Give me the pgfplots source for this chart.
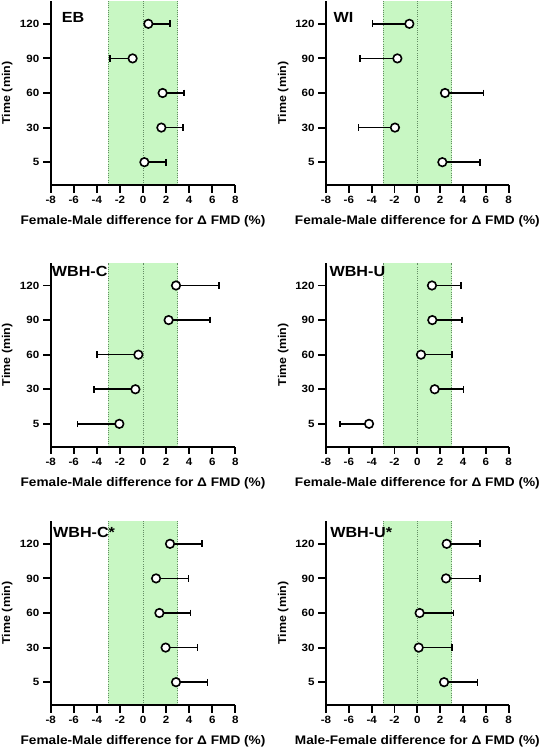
\documentclass[border=0pt]{standalone}
\usepackage{fontspec}
\setmainfont{Liberation Sans}[FakeStretch=1.1]
\usepackage{pgfplots}
\usepackage{pgfplotstable}
\pgfplotsset{compat=1.18}
\definecolor{eqgreen}{RGB}{200,247,195}
\definecolor{dotgreen}{RGB}{100,140,100}

% columns: p = category position (1=5,2=30,3=60,4=90,5=120), v = difference, ep/em = one-sided error
\pgfplotstableread{
p v ep em
1 0.12 1.87 0
2 1.59 1.88 0
3 1.70 1.85 0
4 -0.90 0 1.96
5 0.46 1.88 0
}\EB
\pgfplotstableread{
p v ep em
1 2.19 3.30 0
2 -1.96 0 3.21
3 2.42 3.36 0
4 -1.75 0 3.27
5 -0.70 0 3.24
}\WI
\pgfplotstableread{
p v ep em
1 -2.05 0 3.61
2 -0.66 0 3.61
3 -0.40 0 3.61
4 2.22 3.58 0
5 2.86 3.72 0
}\WBHC
\pgfplotstableread{
p v ep em
1 -4.23 0 2.54
2 1.52 2.51 0
3 0.32 2.69 0
4 1.31 2.60 0
5 1.28 2.52 0
}\WBHU
\pgfplotstableread{
p v ep em
1 2.86 2.74 0
2 1.96 2.75 0
3 1.42 2.71 0
4 1.13 2.80 0
5 2.34 2.77 0
}\WBHCs
\pgfplotstableread{
p v ep em
1 2.34 2.94 0
2 0.12 2.92 0
3 0.20 2.95 0
4 2.51 2.98 0
5 2.57 2.92 0
}\WBHUs

\tikzset{ttl/.style={anchor=west, inner sep=0pt, font=\bfseries\fontsize{11}{13}\selectfont}}

\pgfplotsset{
  panel/.style={
    scale only axis, height=138pt,
    anchor=south west,
    xmin=-8, xmax=8, ymin=0.34, ymax=5.66,
    axis on top,
    axis x line*=bottom, axis y line*=left,
    axis line style={draw=black, line width=1.4pt},
    xtick={-8,-6,-4,-2,0,2,4,6,8},
    xticklabels={-8,-6,-4,-2,0,2,4,6,8},
    ytick={1,2,3,4,5}, yticklabels={5,30,60,90,120},
    tick align=outside, major tick length=5pt,
    tick style={draw=black, line width=1.4pt},
    ticklabel style={font=\bfseries\fontsize{7.9}{9}\selectfont},
    xlabel={Female-Male difference for Δ FMD (\%)},
    ylabel={Time (min)},
    xlabel style={font=\bfseries\fontsize{9.3}{11}\selectfont, at={(axis description cs:0.5,-0.199)}, anchor=center},
    ylabel style={font=\bfseries\fontsize{8.5}{10}\selectfont, at={(axis description cs:-0.235,0.5)}, anchor=center},
    clip=false,
  },
  eq/.style={fill=eqgreen, draw=none, forget plot},
  bar/.style={fill=black, draw=none, forget plot},
  dl/.style={dotgreen, densely dotted, line width=0.7pt, forget plot},
  eb/.style={only marks, mark=none, forget plot,
    error bars/.cd, x dir=both, x explicit, error mark=|,
    error bar style={draw=black, solid, line width=1.2pt},
    error mark options={draw=black, solid, mark size=2.5pt, line width=1.2pt}},
  pts/.style={only marks, mark=*, mark size=3.2pt,
    mark options={fill=white, draw=black, line width=1.2pt}},
}

% y axis line and outward ticks as thin filled areas (1.4pt = 0.16 x-units = 0.054 y-units)
\newcommand{\yaxisfill}{%
  \addplot[bar] coordinates {(-8.08,0.313) (-7.92,0.313) (-7.92,5.66) (-8.08,5.66)} -- cycle;
  \addplot[bar] coordinates {(-8.66,0.973) (-8,0.973) (-8,1.027) (-8.66,1.027)} -- cycle;
  \addplot[bar] coordinates {(-8.66,1.973) (-8,1.973) (-8,2.027) (-8.66,2.027)} -- cycle;
  \addplot[bar] coordinates {(-8.66,2.973) (-8,2.973) (-8,3.027) (-8.66,3.027)} -- cycle;
  \addplot[bar] coordinates {(-8.66,3.973) (-8,3.973) (-8,4.027) (-8.66,4.027)} -- cycle;
  \addplot[bar] coordinates {(-8.66,4.973) (-8,4.973) (-8,5.027) (-8.66,5.027)} -- cycle;
}
\newcommand{\xtickfill}{%
  \addplot[bar] coordinates {(-8.08,0.12) (-7.92,0.12) (-7.92,0.34) (-8.08,0.34)} -- cycle;
  \addplot[bar] coordinates {(-6.08,0.12) (-5.92,0.12) (-5.92,0.34) (-6.08,0.34)} -- cycle;
  \addplot[bar] coordinates {(-4.08,0.12) (-3.92,0.12) (-3.92,0.34) (-4.08,0.34)} -- cycle;
  \addplot[bar] coordinates {(-2.08,0.12) (-1.92,0.12) (-1.92,0.34) (-2.08,0.34)} -- cycle;
  \addplot[bar] coordinates {(-0.08,0.12) (0.08,0.12) (0.08,0.34) (-0.08,0.34)} -- cycle;
  \addplot[bar] coordinates {(1.92,0.12) (2.08,0.12) (2.08,0.34) (1.92,0.34)} -- cycle;
  \addplot[bar] coordinates {(3.92,0.12) (4.08,0.12) (4.08,0.34) (3.92,0.34)} -- cycle;
  \addplot[bar] coordinates {(5.92,0.12) (6.08,0.12) (6.08,0.34) (5.92,0.34)} -- cycle;
  \addplot[bar] coordinates {(7.92,0.12) (8.08,0.12) (8.08,0.34) (7.92,0.34)} -- cycle;
}

\newcommand{\panelbody}[1]{%
  \addplot[eq] coordinates {(-3,0.34) (3,0.34) (3,5.66) (-3,5.66)} -- cycle;
  \addplot[dl] coordinates {(-3,0.34) (-3,5.66)};
  \addplot[dl] coordinates {(0,0.34) (0,5.66)};
  \addplot[dl] coordinates {(3,0.34) (3,5.66)};
  \yaxisfill
  \xtickfill
  \addplot[eb] table[x=v, y=p, x error plus=ep, x error minus=em] {#1};
  \addplot[pts] table[x=v, y=p] {#1};
}

\begin{document}
\begin{tikzpicture}
\path[use as bounding box] (0pt,0pt) rectangle (405pt,-564pt);

\begin{axis}[panel, width=138.5pt, at={(38pt,-138.75pt)}]
\panelbody{\EB}
\node[ttl] at ([xshift=8.25pt,yshift=-12.2pt]rel axis cs:0,1) {EB};
\end{axis}

\begin{axis}[panel, width=137pt, at={(244.5pt,-138.75pt)}]
\panelbody{\WI}
\node[ttl] at ([xshift=5.5pt,yshift=-12.2pt]rel axis cs:0,1) {WI};
\end{axis}

\begin{axis}[panel, width=138.5pt, at={(38pt,-335pt)}]
\panelbody{\WBHC}
\node[ttl] at ([xshift=0.75pt,yshift=-6.75pt]rel axis cs:0,1) {WBH-C};
\end{axis}

\begin{axis}[panel, width=137pt, at={(244.5pt,-335pt)}]
\panelbody{\WBHU}
\node[ttl] at ([xshift=2.5pt,yshift=-6.75pt]rel axis cs:0,1) {WBH-U};
\end{axis}

\begin{axis}[panel, width=138.5pt, at={(38pt,-528.75pt)}]
\panelbody{\WBHCs}
\node[ttl] at ([xshift=1.7pt,yshift=-8.5pt]rel axis cs:0,1) {WBH-C*};
\end{axis}

\begin{axis}[panel, width=137pt, at={(244.5pt,-528.75pt)},
  xlabel={Male-Female difference for Δ FMD (\%)}]
\panelbody{\WBHUs}
\node[ttl] at ([xshift=3pt,yshift=-8.5pt]rel axis cs:0,1) {WBH-U*};
\end{axis}
\end{tikzpicture}
\end{document}
